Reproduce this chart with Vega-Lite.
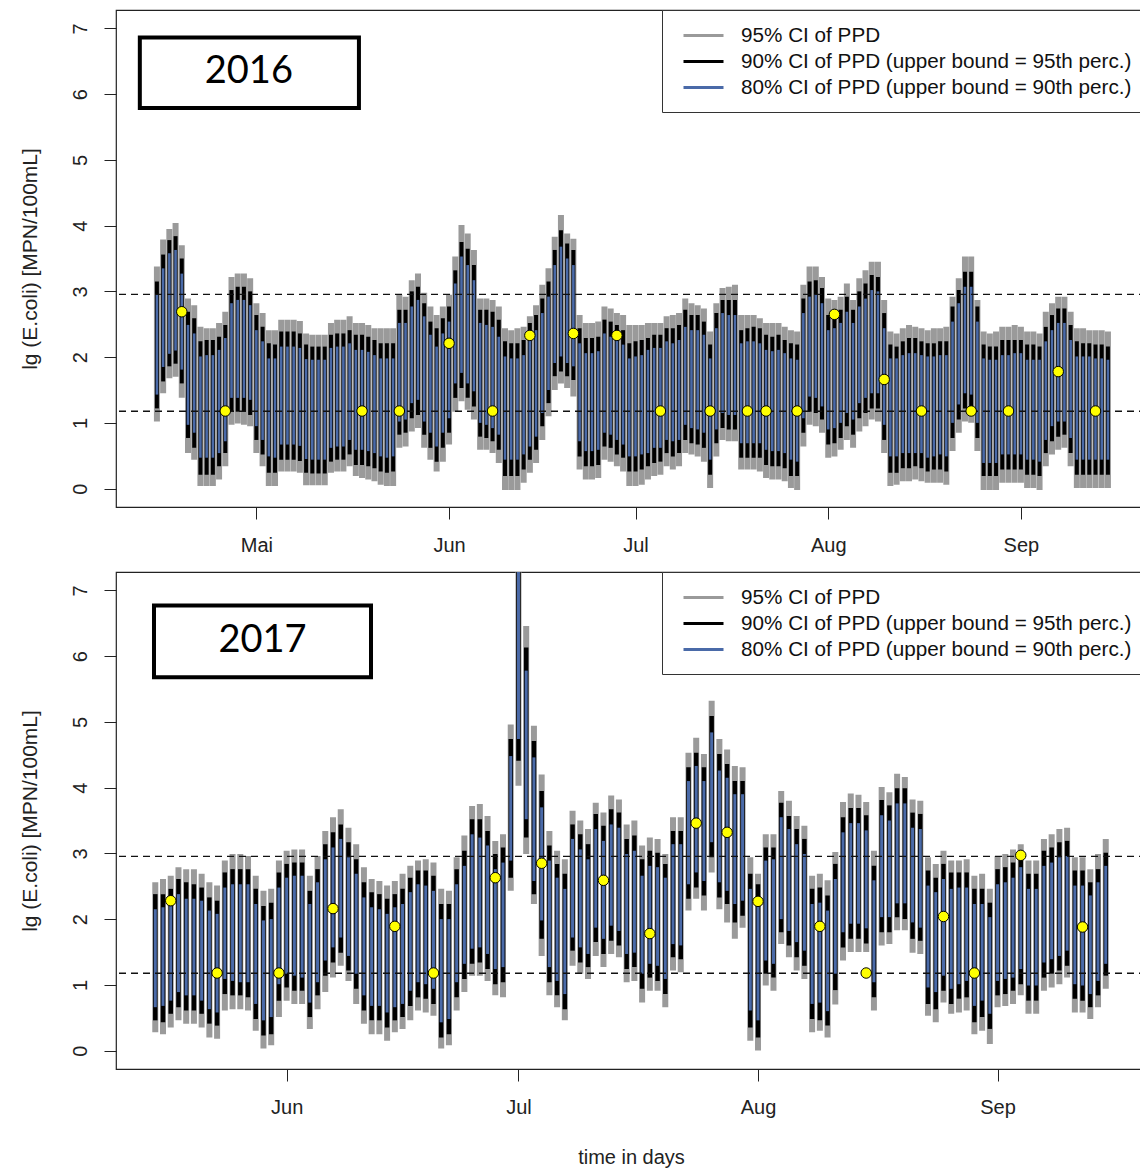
{
  "$schema": "https://vega.github.io/schema/vega-lite/v6.json",
  "background": "white",
  "padding": {"left": 18, "top": 8, "right": 0, "bottom": 0},
  "spacing": 14,
  "config": {
    "font": "Liberation Sans",
    "view": {"stroke": "#222222", "strokeWidth": 1.2},
    "axis": {"domain": false, "grid": false, "tickColor": "#222222", "tickSize": 12, "tickWidth": 1, "labelFont": "Liberation Sans", "labelFontSize": 20, "labelColor": "#222222", "titleFont": "Liberation Sans", "titleFontSize": 21, "titleFontWeight": "normal", "titleColor": "#222222", "labelOverlap": false, "labelFlush": false},
    "legend": {"orient": "top-right", "offset": 0, "padding": 14, "strokeColor": "#333333", "fillColor": "white", "symbolType": "M-2,0H2", "symbolSize": 400, "symbolStrokeWidth": 3, "labelFont": "Liberation Sans", "labelFontSize": 20.7, "labelColor": "#111111", "labelLimit": 1000, "labelOffset": 26, "rowPadding": 4, "symbolOffset": 16, "cornerRadius": 0}
  },
  "resolve": {"scale": {"x": "independent", "y": "independent", "color": "independent"}, "legend": {"color": "independent"}},
  "datasets": {
    "thresholds": [{"limit": "900 MPN/100mL", "value": 2.954}, {"limit": "detection limit 15 MPN/100mL", "value": 1.176}],
    "label2016": [{"label": "2016"}],
    "label2017": [{"label": "2017"}],
    "obs2016": [
      {"date": "2016-04-19", "value": 2.69}, {"date": "2016-04-26", "value": 1.18}, {"date": "2016-05-18", "value": 1.18}, {"date": "2016-05-24", "value": 1.18},
      {"date": "2016-06-01", "value": 2.21}, {"date": "2016-06-08", "value": 1.18}, {"date": "2016-06-14", "value": 2.33}, {"date": "2016-06-21", "value": 2.36},
      {"date": "2016-06-28", "value": 2.33}, {"date": "2016-07-05", "value": 1.18}, {"date": "2016-07-13", "value": 1.18}, {"date": "2016-07-19", "value": 1.18},
      {"date": "2016-07-22", "value": 1.18}, {"date": "2016-07-27", "value": 1.18}, {"date": "2016-08-02", "value": 2.65}, {"date": "2016-08-10", "value": 1.66},
      {"date": "2016-08-16", "value": 1.18}, {"date": "2016-08-24", "value": 1.18}, {"date": "2016-08-30", "value": 1.18}, {"date": "2016-09-07", "value": 1.78},
      {"date": "2016-09-13", "value": 1.18}
    ],
    "obs2017": [
      {"date": "2017-05-17", "value": 2.28}, {"date": "2017-05-23", "value": 1.18}, {"date": "2017-05-31", "value": 1.18}, {"date": "2017-06-07", "value": 2.16},
      {"date": "2017-06-15", "value": 1.89}, {"date": "2017-06-20", "value": 1.18}, {"date": "2017-06-28", "value": 2.63}, {"date": "2017-07-04", "value": 2.85},
      {"date": "2017-07-12", "value": 2.59}, {"date": "2017-07-18", "value": 1.78}, {"date": "2017-07-24", "value": 3.46}, {"date": "2017-07-28", "value": 3.32},
      {"date": "2017-08-01", "value": 2.27}, {"date": "2017-08-09", "value": 1.89}, {"date": "2017-08-15", "value": 1.18}, {"date": "2017-08-25", "value": 2.04},
      {"date": "2017-08-29", "value": 1.18}, {"date": "2017-09-04", "value": 2.97}, {"date": "2017-09-12", "value": 1.88}
    ],
    "ppd2016": [
      {"date":"2016-04-15","lo95":1.02,"lo90":1.22,"lo80":1.43,"hi80":2.95,"hi90":3.15,"hi95":3.38},
      {"date":"2016-04-16","lo95":1.45,"lo90":1.63,"lo80":1.85,"hi80":3.35,"hi90":3.56,"hi95":3.79},
      {"date":"2016-04-17","lo95":1.68,"lo90":1.86,"lo80":2.05,"hi80":3.58,"hi90":3.78,"hi95":3.95},
      {"date":"2016-04-18","lo95":1.7,"lo90":1.9,"lo80":2.1,"hi80":3.63,"hi90":3.84,"hi95":4.04},
      {"date":"2016-04-19","lo95":1.38,"lo90":1.6,"lo80":1.81,"hi80":3.27,"hi90":3.5,"hi95":3.7},
      {"date":"2016-04-20","lo95":0.54,"lo90":0.77,"lo80":0.97,"hi80":2.49,"hi90":2.69,"hi95":2.89},
      {"date":"2016-04-21","lo95":0.44,"lo90":0.62,"lo80":0.85,"hi80":2.36,"hi90":2.59,"hi95":2.79},
      {"date":"2016-04-22","lo95":0.04,"lo90":0.21,"lo80":0.47,"hi80":2.01,"hi90":2.24,"hi95":2.46},
      {"date":"2016-04-23","lo95":0.04,"lo90":0.21,"lo80":0.47,"hi80":2.03,"hi90":2.26,"hi95":2.44},
      {"date":"2016-04-24","lo95":0.04,"lo90":0.21,"lo80":0.47,"hi80":2.03,"hi90":2.26,"hi95":2.44},
      {"date":"2016-04-25","lo95":0.14,"lo90":0.34,"lo80":0.54,"hi80":2.11,"hi90":2.31,"hi95":2.52},
      {"date":"2016-04-26","lo95":0.34,"lo90":0.54,"lo80":0.72,"hi80":2.29,"hi90":2.49,"hi95":2.69},
      {"date":"2016-04-27","lo95":0.97,"lo90":1.17,"lo80":1.38,"hi80":2.82,"hi90":3.02,"hi95":3.22},
      {"date":"2016-04-28","lo95":0.99,"lo90":1.17,"lo80":1.38,"hi80":2.87,"hi90":3.07,"hi95":3.27},
      {"date":"2016-04-29","lo95":0.97,"lo90":1.17,"lo80":1.38,"hi80":2.87,"hi90":3.07,"hi95":3.27},
      {"date":"2016-04-30","lo95":0.95,"lo90":1.12,"lo80":1.35,"hi80":2.79,"hi90":3.0,"hi95":3.2},
      {"date":"2016-05-01","lo95":0.54,"lo90":0.74,"lo80":0.95,"hi80":2.41,"hi90":2.64,"hi95":2.82},
      {"date":"2016-05-02","lo95":0.34,"lo90":0.52,"lo80":0.74,"hi80":2.24,"hi90":2.46,"hi95":2.67},
      {"date":"2016-05-03","lo95":0.04,"lo90":0.24,"lo80":0.49,"hi80":1.98,"hi90":2.21,"hi95":2.41},
      {"date":"2016-05-04","lo95":0.04,"lo90":0.24,"lo80":0.47,"hi80":1.98,"hi90":2.19,"hi95":2.41},
      {"date":"2016-05-05","lo95":0.26,"lo90":0.44,"lo80":0.67,"hi80":2.16,"hi90":2.39,"hi95":2.57},
      {"date":"2016-05-06","lo95":0.26,"lo90":0.44,"lo80":0.67,"hi80":2.16,"hi90":2.39,"hi95":2.57},
      {"date":"2016-05-07","lo95":0.26,"lo90":0.44,"lo80":0.67,"hi80":2.16,"hi90":2.39,"hi95":2.57},
      {"date":"2016-05-08","lo95":0.24,"lo90":0.42,"lo80":0.65,"hi80":2.14,"hi90":2.36,"hi95":2.55},
      {"date":"2016-05-09","lo95":0.05,"lo90":0.24,"lo80":0.45,"hi80":1.97,"hi90":2.19,"hi95":2.36},
      {"date":"2016-05-10","lo95":0.05,"lo90":0.23,"lo80":0.44,"hi80":1.96,"hi90":2.16,"hi95":2.34},
      {"date":"2016-05-11","lo95":0.05,"lo90":0.23,"lo80":0.44,"hi80":1.96,"hi90":2.16,"hi95":2.34},
      {"date":"2016-05-12","lo95":0.05,"lo90":0.23,"lo80":0.44,"hi80":1.96,"hi90":2.16,"hi95":2.34},
      {"date":"2016-05-13","lo95":0.24,"lo90":0.41,"lo80":0.62,"hi80":2.14,"hi90":2.34,"hi95":2.52},
      {"date":"2016-05-14","lo95":0.26,"lo90":0.44,"lo80":0.64,"hi80":2.16,"hi90":2.36,"hi95":2.57},
      {"date":"2016-05-15","lo95":0.26,"lo90":0.44,"lo80":0.64,"hi80":2.16,"hi90":2.36,"hi95":2.57},
      {"date":"2016-05-16","lo95":0.34,"lo90":0.52,"lo80":0.74,"hi80":2.21,"hi90":2.41,"hi95":2.62},
      {"date":"2016-05-17","lo95":0.19,"lo90":0.36,"lo80":0.59,"hi80":2.11,"hi90":2.34,"hi95":2.52},
      {"date":"2016-05-18","lo95":0.16,"lo90":0.36,"lo80":0.59,"hi80":2.11,"hi90":2.34,"hi95":2.52},
      {"date":"2016-05-19","lo95":0.14,"lo90":0.34,"lo80":0.57,"hi80":2.08,"hi90":2.31,"hi95":2.49},
      {"date":"2016-05-20","lo95":0.11,"lo90":0.31,"lo80":0.54,"hi80":2.03,"hi90":2.26,"hi95":2.44},
      {"date":"2016-05-21","lo95":0.06,"lo90":0.26,"lo80":0.49,"hi80":1.98,"hi90":2.21,"hi95":2.44},
      {"date":"2016-05-22","lo95":0.04,"lo90":0.24,"lo80":0.47,"hi80":1.98,"hi90":2.21,"hi95":2.44},
      {"date":"2016-05-23","lo95":0.04,"lo90":0.26,"lo80":0.49,"hi80":1.98,"hi90":2.21,"hi95":2.44},
      {"date":"2016-05-24","lo95":0.62,"lo90":0.82,"lo80":1.02,"hi80":2.52,"hi90":2.72,"hi95":2.95},
      {"date":"2016-05-25","lo95":0.64,"lo90":0.85,"lo80":1.05,"hi80":2.52,"hi90":2.72,"hi95":2.92},
      {"date":"2016-05-26","lo95":0.87,"lo90":1.07,"lo80":1.3,"hi80":2.77,"hi90":3.0,"hi95":3.17},
      {"date":"2016-05-27","lo95":0.92,"lo90":1.12,"lo80":1.35,"hi80":2.87,"hi90":3.07,"hi95":3.27},
      {"date":"2016-05-28","lo95":0.62,"lo90":0.82,"lo80":1.02,"hi80":2.62,"hi90":2.82,"hi95":2.98},
      {"date":"2016-05-29","lo95":0.44,"lo90":0.62,"lo80":0.85,"hi80":2.34,"hi90":2.54,"hi95":2.77},
      {"date":"2016-05-30","lo95":0.26,"lo90":0.41,"lo80":0.64,"hi80":2.16,"hi90":2.44,"hi95":2.64},
      {"date":"2016-05-31","lo95":0.41,"lo90":0.62,"lo80":0.85,"hi80":2.36,"hi90":2.59,"hi95":2.77},
      {"date":"2016-06-01","lo95":0.67,"lo90":0.85,"lo80":1.07,"hi80":2.54,"hi90":2.77,"hi95":2.95},
      {"date":"2016-06-02","lo95":1.17,"lo90":1.38,"lo80":1.6,"hi80":3.12,"hi90":3.32,"hi95":3.53},
      {"date":"2016-06-03","lo95":1.33,"lo90":1.53,"lo80":1.76,"hi80":3.53,"hi90":3.75,"hi95":4.01},
      {"date":"2016-06-04","lo95":1.2,"lo90":1.38,"lo80":1.6,"hi80":3.4,"hi90":3.65,"hi95":3.88},
      {"date":"2016-06-05","lo95":1.05,"lo90":1.25,"lo80":1.48,"hi80":3.17,"hi90":3.4,"hi95":3.63},
      {"date":"2016-06-06","lo95":0.59,"lo90":0.79,"lo80":1.0,"hi80":2.52,"hi90":2.72,"hi95":2.89},
      {"date":"2016-06-07","lo95":0.59,"lo90":0.77,"lo80":0.97,"hi80":2.49,"hi90":2.72,"hi95":2.89},
      {"date":"2016-06-08","lo95":0.54,"lo90":0.72,"lo80":0.92,"hi80":2.46,"hi90":2.69,"hi95":2.87},
      {"date":"2016-06-09","lo95":0.39,"lo90":0.59,"lo80":0.82,"hi80":2.31,"hi90":2.57,"hi95":2.77},
      {"date":"2016-06-10","lo95":-0.02,"lo90":0.19,"lo80":0.44,"hi80":2.01,"hi90":2.24,"hi95":2.44},
      {"date":"2016-06-11","lo95":-0.02,"lo90":0.19,"lo80":0.44,"hi80":1.98,"hi90":2.21,"hi95":2.41},
      {"date":"2016-06-12","lo95":-0.02,"lo90":0.19,"lo80":0.44,"hi80":1.98,"hi90":2.21,"hi95":2.44},
      {"date":"2016-06-13","lo95":0.09,"lo90":0.29,"lo80":0.52,"hi80":2.03,"hi90":2.26,"hi95":2.46},
      {"date":"2016-06-14","lo95":0.24,"lo90":0.44,"lo80":0.64,"hi80":2.29,"hi90":2.52,"hi95":2.62},
      {"date":"2016-06-15","lo95":0.39,"lo90":0.59,"lo80":0.79,"hi80":2.41,"hi90":2.64,"hi95":2.79},
      {"date":"2016-06-16","lo95":0.74,"lo90":0.95,"lo80":1.15,"hi80":2.67,"hi90":2.89,"hi95":3.1},
      {"date":"2016-06-17","lo95":1.1,"lo90":1.3,"lo80":1.5,"hi80":2.92,"hi90":3.15,"hi95":3.35},
      {"date":"2016-06-18","lo95":1.5,"lo90":1.71,"lo80":1.91,"hi80":3.4,"hi90":3.63,"hi95":3.83},
      {"date":"2016-06-19","lo95":1.6,"lo90":1.78,"lo80":2.01,"hi80":3.68,"hi90":3.93,"hi95":4.16},
      {"date":"2016-06-20","lo95":1.53,"lo90":1.71,"lo80":1.91,"hi80":3.5,"hi90":3.73,"hi95":3.88},
      {"date":"2016-06-21","lo95":1.4,"lo90":1.65,"lo80":1.86,"hi80":3.4,"hi90":3.63,"hi95":3.8},
      {"date":"2016-06-22","lo95":0.29,"lo90":0.49,"lo80":0.72,"hi80":2.21,"hi90":2.44,"hi95":2.64},
      {"date":"2016-06-23","lo95":0.14,"lo90":0.34,"lo80":0.57,"hi80":2.06,"hi90":2.29,"hi95":2.52},
      {"date":"2016-06-24","lo95":0.14,"lo90":0.34,"lo80":0.57,"hi80":2.06,"hi90":2.29,"hi95":2.52},
      {"date":"2016-06-25","lo95":0.16,"lo90":0.36,"lo80":0.59,"hi80":2.09,"hi90":2.31,"hi95":2.54},
      {"date":"2016-06-26","lo95":0.44,"lo90":0.64,"lo80":0.85,"hi80":2.36,"hi90":2.57,"hi95":2.77},
      {"date":"2016-06-27","lo95":0.41,"lo90":0.62,"lo80":0.82,"hi80":2.31,"hi90":2.54,"hi95":2.74},
      {"date":"2016-06-28","lo95":0.34,"lo90":0.52,"lo80":0.74,"hi80":2.26,"hi90":2.49,"hi95":2.67},
      {"date":"2016-06-29","lo95":0.26,"lo90":0.47,"lo80":0.67,"hi80":2.19,"hi90":2.41,"hi95":2.64},
      {"date":"2016-06-30","lo95":0.04,"lo90":0.26,"lo80":0.49,"hi80":1.98,"hi90":2.21,"hi95":2.49},
      {"date":"2016-07-01","lo95":0.04,"lo90":0.26,"lo80":0.49,"hi80":2.01,"hi90":2.24,"hi95":2.49},
      {"date":"2016-07-02","lo95":0.06,"lo90":0.29,"lo80":0.52,"hi80":2.03,"hi90":2.26,"hi95":2.49},
      {"date":"2016-07-03","lo95":0.14,"lo90":0.34,"lo80":0.54,"hi80":2.11,"hi90":2.29,"hi95":2.52},
      {"date":"2016-07-04","lo95":0.19,"lo90":0.39,"lo80":0.62,"hi80":2.14,"hi90":2.34,"hi95":2.52},
      {"date":"2016-07-05","lo95":0.21,"lo90":0.41,"lo80":0.62,"hi80":2.14,"hi90":2.34,"hi95":2.52},
      {"date":"2016-07-06","lo95":0.34,"lo90":0.54,"lo80":0.74,"hi80":2.24,"hi90":2.44,"hi95":2.62},
      {"date":"2016-07-07","lo95":0.29,"lo90":0.49,"lo80":0.72,"hi80":2.21,"hi90":2.44,"hi95":2.64},
      {"date":"2016-07-08","lo95":0.34,"lo90":0.54,"lo80":0.74,"hi80":2.26,"hi90":2.49,"hi95":2.67},
      {"date":"2016-07-09","lo95":0.54,"lo90":0.74,"lo80":0.97,"hi80":2.46,"hi90":2.72,"hi95":2.89},
      {"date":"2016-07-10","lo95":0.52,"lo90":0.69,"lo80":0.92,"hi80":2.41,"hi90":2.64,"hi95":2.82},
      {"date":"2016-07-11","lo95":0.49,"lo90":0.67,"lo80":0.9,"hi80":2.41,"hi90":2.64,"hi95":2.79},
      {"date":"2016-07-12","lo95":0.41,"lo90":0.62,"lo80":0.85,"hi80":2.34,"hi90":2.54,"hi95":2.74},
      {"date":"2016-07-13","lo95":0.01,"lo90":0.21,"lo80":0.44,"hi80":1.98,"hi90":2.19,"hi95":2.39},
      {"date":"2016-07-14","lo95":0.49,"lo90":0.69,"lo80":0.9,"hi80":2.44,"hi90":2.67,"hi95":2.82},
      {"date":"2016-07-15","lo95":0.74,"lo90":0.92,"lo80":1.15,"hi80":2.67,"hi90":2.87,"hi95":3.05},
      {"date":"2016-07-16","lo95":0.72,"lo90":0.9,"lo80":1.12,"hi80":2.64,"hi90":2.87,"hi95":3.07},
      {"date":"2016-07-17","lo95":0.72,"lo90":0.9,"lo80":1.12,"hi80":2.64,"hi90":2.87,"hi95":3.1},
      {"date":"2016-07-18","lo95":0.29,"lo90":0.47,"lo80":0.69,"hi80":2.21,"hi90":2.41,"hi95":2.64},
      {"date":"2016-07-19","lo95":0.29,"lo90":0.47,"lo80":0.69,"hi80":2.24,"hi90":2.44,"hi95":2.64},
      {"date":"2016-07-20","lo95":0.29,"lo90":0.47,"lo80":0.69,"hi80":2.24,"hi90":2.46,"hi95":2.64},
      {"date":"2016-07-21","lo95":0.26,"lo90":0.47,"lo80":0.69,"hi80":2.21,"hi90":2.44,"hi95":2.59},
      {"date":"2016-07-22","lo95":0.16,"lo90":0.36,"lo80":0.59,"hi80":2.11,"hi90":2.34,"hi95":2.52},
      {"date":"2016-07-23","lo95":0.14,"lo90":0.34,"lo80":0.57,"hi80":2.09,"hi90":2.31,"hi95":2.52},
      {"date":"2016-07-24","lo95":0.14,"lo90":0.34,"lo80":0.57,"hi80":2.11,"hi90":2.34,"hi95":2.52},
      {"date":"2016-07-25","lo95":0.11,"lo90":0.31,"lo80":0.54,"hi80":2.06,"hi90":2.26,"hi95":2.46},
      {"date":"2016-07-26","lo95":0.01,"lo90":0.19,"lo80":0.44,"hi80":1.98,"hi90":2.21,"hi95":2.41},
      {"date":"2016-07-27","lo95":-0.02,"lo90":0.19,"lo80":0.41,"hi80":1.96,"hi90":2.19,"hi95":2.39},
      {"date":"2016-07-28","lo95":0.64,"lo90":0.85,"lo80":1.07,"hi80":2.67,"hi90":2.89,"hi95":3.1},
      {"date":"2016-07-29","lo95":0.97,"lo90":1.17,"lo80":1.4,"hi80":2.92,"hi90":3.15,"hi95":3.38},
      {"date":"2016-07-30","lo95":0.95,"lo90":1.15,"lo80":1.38,"hi80":2.95,"hi90":3.17,"hi95":3.38},
      {"date":"2016-07-31","lo95":0.85,"lo90":1.05,"lo80":1.25,"hi80":2.82,"hi90":3.05,"hi95":3.22},
      {"date":"2016-08-01","lo95":0.47,"lo90":0.67,"lo80":0.9,"hi80":2.41,"hi90":2.64,"hi95":2.89},
      {"date":"2016-08-02","lo95":0.49,"lo90":0.69,"lo80":0.92,"hi80":2.44,"hi90":2.67,"hi95":2.87},
      {"date":"2016-08-03","lo95":0.59,"lo90":0.77,"lo80":1.0,"hi80":2.52,"hi90":2.72,"hi95":2.92},
      {"date":"2016-08-04","lo95":0.74,"lo90":0.95,"lo80":1.15,"hi80":2.69,"hi90":2.92,"hi95":3.12},
      {"date":"2016-08-05","lo95":0.62,"lo90":0.82,"lo80":1.05,"hi80":2.52,"hi90":2.72,"hi95":2.87},
      {"date":"2016-08-06","lo95":0.87,"lo90":1.07,"lo80":1.3,"hi80":2.77,"hi90":3.0,"hi95":3.2},
      {"date":"2016-08-07","lo95":0.95,"lo90":1.15,"lo80":1.38,"hi80":2.89,"hi90":3.12,"hi95":3.32},
      {"date":"2016-08-08","lo95":1.05,"lo90":1.22,"lo80":1.45,"hi80":3.02,"hi90":3.25,"hi95":3.45},
      {"date":"2016-08-09","lo95":1.02,"lo90":1.22,"lo80":1.45,"hi80":3.0,"hi90":3.22,"hi95":3.45},
      {"date":"2016-08-10","lo95":0.54,"lo90":0.74,"lo80":0.97,"hi80":2.44,"hi90":2.67,"hi95":2.87},
      {"date":"2016-08-11","lo95":0.04,"lo90":0.24,"lo80":0.49,"hi80":1.98,"hi90":2.19,"hi95":2.39},
      {"date":"2016-08-12","lo95":0.06,"lo90":0.24,"lo80":0.49,"hi80":1.98,"hi90":2.16,"hi95":2.36},
      {"date":"2016-08-13","lo95":0.11,"lo90":0.31,"lo80":0.54,"hi80":2.03,"hi90":2.24,"hi95":2.44},
      {"date":"2016-08-14","lo95":0.11,"lo90":0.31,"lo80":0.54,"hi80":2.06,"hi90":2.29,"hi95":2.49},
      {"date":"2016-08-15","lo95":0.14,"lo90":0.34,"lo80":0.54,"hi80":2.06,"hi90":2.29,"hi95":2.46},
      {"date":"2016-08-16","lo95":0.11,"lo90":0.31,"lo80":0.54,"hi80":2.03,"hi90":2.24,"hi95":2.44},
      {"date":"2016-08-17","lo95":0.09,"lo90":0.26,"lo80":0.47,"hi80":2.01,"hi90":2.21,"hi95":2.41},
      {"date":"2016-08-18","lo95":0.09,"lo90":0.29,"lo80":0.49,"hi80":2.01,"hi90":2.21,"hi95":2.44},
      {"date":"2016-08-19","lo95":0.09,"lo90":0.29,"lo80":0.52,"hi80":2.03,"hi90":2.24,"hi95":2.44},
      {"date":"2016-08-20","lo95":0.06,"lo90":0.26,"lo80":0.49,"hi80":2.03,"hi90":2.24,"hi95":2.46},
      {"date":"2016-08-21","lo95":0.57,"lo90":0.77,"lo80":1.0,"hi80":2.54,"hi90":2.77,"hi95":2.92},
      {"date":"2016-08-22","lo95":0.85,"lo90":1.05,"lo80":1.28,"hi80":2.82,"hi90":3.02,"hi95":3.2},
      {"date":"2016-08-23","lo95":1.02,"lo90":1.22,"lo80":1.45,"hi80":3.07,"hi90":3.3,"hi95":3.53},
      {"date":"2016-08-24","lo95":1.0,"lo90":1.2,"lo80":1.43,"hi80":3.07,"hi90":3.3,"hi95":3.53},
      {"date":"2016-08-25","lo95":0.57,"lo90":0.77,"lo80":1.0,"hi80":2.54,"hi90":2.77,"hi95":2.87},
      {"date":"2016-08-26","lo95":-0.02,"lo90":0.19,"lo80":0.39,"hi80":1.98,"hi90":2.19,"hi95":2.39},
      {"date":"2016-08-27","lo95":-0.02,"lo90":0.19,"lo80":0.39,"hi80":1.96,"hi90":2.16,"hi95":2.36},
      {"date":"2016-08-28","lo95":-0.02,"lo90":0.19,"lo80":0.39,"hi80":1.96,"hi90":2.16,"hi95":2.39},
      {"date":"2016-08-29","lo95":0.09,"lo90":0.29,"lo80":0.52,"hi80":2.03,"hi90":2.26,"hi95":2.46},
      {"date":"2016-08-30","lo95":0.09,"lo90":0.29,"lo80":0.52,"hi80":2.03,"hi90":2.26,"hi95":2.46},
      {"date":"2016-08-31","lo95":0.09,"lo90":0.29,"lo80":0.52,"hi80":2.06,"hi90":2.26,"hi95":2.49},
      {"date":"2016-09-01","lo95":0.09,"lo90":0.29,"lo80":0.52,"hi80":2.06,"hi90":2.26,"hi95":2.46},
      {"date":"2016-09-02","lo95":0.01,"lo90":0.21,"lo80":0.44,"hi80":1.96,"hi90":2.19,"hi95":2.39},
      {"date":"2016-09-03","lo95":0.01,"lo90":0.21,"lo80":0.44,"hi80":1.96,"hi90":2.19,"hi95":2.39},
      {"date":"2016-09-04","lo95":-0.02,"lo90":0.19,"lo80":0.41,"hi80":1.96,"hi90":2.16,"hi95":2.36},
      {"date":"2016-09-05","lo95":0.34,"lo90":0.54,"lo80":0.74,"hi80":2.24,"hi90":2.46,"hi95":2.69},
      {"date":"2016-09-06","lo95":0.52,"lo90":0.72,"lo80":0.95,"hi80":2.41,"hi90":2.64,"hi95":2.82},
      {"date":"2016-09-07","lo95":0.59,"lo90":0.79,"lo80":1.02,"hi80":2.52,"hi90":2.74,"hi95":2.92},
      {"date":"2016-09-08","lo95":0.62,"lo90":0.82,"lo80":1.02,"hi80":2.52,"hi90":2.74,"hi95":2.92},
      {"date":"2016-09-09","lo95":0.34,"lo90":0.54,"lo80":0.77,"hi80":2.26,"hi90":2.49,"hi95":2.69},
      {"date":"2016-09-10","lo95":0.01,"lo90":0.21,"lo80":0.44,"hi80":2.01,"hi90":2.24,"hi95":2.44},
      {"date":"2016-09-11","lo95":0.01,"lo90":0.21,"lo80":0.44,"hi80":2.01,"hi90":2.21,"hi95":2.44},
      {"date":"2016-09-12","lo95":0.01,"lo90":0.21,"lo80":0.44,"hi80":2.01,"hi90":2.21,"hi95":2.41},
      {"date":"2016-09-13","lo95":0.01,"lo90":0.21,"lo80":0.44,"hi80":1.98,"hi90":2.19,"hi95":2.41},
      {"date":"2016-09-14","lo95":0.01,"lo90":0.21,"lo80":0.44,"hi80":1.98,"hi90":2.19,"hi95":2.41},
      {"date":"2016-09-15","lo95":0.01,"lo90":0.21,"lo80":0.44,"hi80":1.96,"hi90":2.16,"hi95":2.39}
    ],
    "ppd2017": [
      {"date":"2017-05-15","lo95":0.28,"lo90":0.46,"lo80":0.66,"hi80":2.15,"hi90":2.38,"hi95":2.56},
      {"date":"2017-05-16","lo95":0.25,"lo90":0.43,"lo80":0.68,"hi80":2.18,"hi90":2.38,"hi95":2.61},
      {"date":"2017-05-17","lo95":0.35,"lo90":0.56,"lo80":0.76,"hi80":2.23,"hi90":2.46,"hi95":2.66},
      {"date":"2017-05-18","lo95":0.46,"lo90":0.66,"lo80":0.89,"hi80":2.38,"hi90":2.61,"hi95":2.79},
      {"date":"2017-05-19","lo95":0.41,"lo90":0.61,"lo80":0.84,"hi80":2.31,"hi90":2.56,"hi95":2.76},
      {"date":"2017-05-20","lo95":0.41,"lo90":0.61,"lo80":0.84,"hi80":2.31,"hi90":2.53,"hi95":2.76},
      {"date":"2017-05-21","lo95":0.35,"lo90":0.56,"lo80":0.76,"hi80":2.28,"hi90":2.48,"hi95":2.69},
      {"date":"2017-05-22","lo95":0.2,"lo90":0.41,"lo80":0.63,"hi80":2.13,"hi90":2.33,"hi95":2.56},
      {"date":"2017-05-23","lo95":0.18,"lo90":0.38,"lo80":0.58,"hi80":2.08,"hi90":2.28,"hi95":2.51},
      {"date":"2017-05-24","lo95":0.61,"lo90":0.86,"lo80":1.09,"hi80":2.48,"hi90":2.71,"hi95":2.89},
      {"date":"2017-05-25","lo95":0.63,"lo90":0.84,"lo80":1.06,"hi80":2.53,"hi90":2.76,"hi95":2.99},
      {"date":"2017-05-26","lo95":0.63,"lo90":0.84,"lo80":1.04,"hi80":2.53,"hi90":2.76,"hi95":2.99},
      {"date":"2017-05-27","lo95":0.61,"lo90":0.81,"lo80":1.04,"hi80":2.53,"hi90":2.76,"hi95":2.96},
      {"date":"2017-05-28","lo95":0.3,"lo90":0.48,"lo80":0.71,"hi80":2.23,"hi90":2.46,"hi95":2.66},
      {"date":"2017-05-29","lo95":0.03,"lo90":0.23,"lo80":0.46,"hi80":1.98,"hi90":2.2,"hi95":2.43},
      {"date":"2017-05-30","lo95":0.08,"lo90":0.25,"lo80":0.51,"hi80":2.0,"hi90":2.25,"hi95":2.46},
      {"date":"2017-05-31","lo95":0.51,"lo90":0.76,"lo80":1.01,"hi80":2.48,"hi90":2.71,"hi95":2.89},
      {"date":"2017-06-01","lo95":0.76,"lo90":0.96,"lo80":1.17,"hi80":2.63,"hi90":2.84,"hi95":3.04},
      {"date":"2017-06-02","lo95":0.71,"lo90":0.91,"lo80":1.14,"hi80":2.66,"hi90":2.86,"hi95":3.06},
      {"date":"2017-06-03","lo95":0.71,"lo90":0.91,"lo80":1.11,"hi80":2.66,"hi90":2.86,"hi95":3.06},
      {"date":"2017-06-04","lo95":0.33,"lo90":0.51,"lo80":0.73,"hi80":2.23,"hi90":2.43,"hi95":2.66},
      {"date":"2017-06-05","lo95":0.63,"lo90":0.84,"lo80":1.04,"hi80":2.56,"hi90":2.76,"hi95":2.96},
      {"date":"2017-06-06","lo95":0.89,"lo90":1.14,"lo80":1.37,"hi80":2.91,"hi90":3.14,"hi95":3.34},
      {"date":"2017-06-07","lo95":1.11,"lo90":1.34,"lo80":1.57,"hi80":3.09,"hi90":3.32,"hi95":3.55},
      {"date":"2017-06-08","lo95":1.29,"lo90":1.49,"lo80":1.72,"hi80":3.22,"hi90":3.44,"hi95":3.67},
      {"date":"2017-06-09","lo95":1.06,"lo90":1.22,"lo80":1.44,"hi80":2.94,"hi90":3.17,"hi95":3.39},
      {"date":"2017-06-10","lo95":0.71,"lo90":0.94,"lo80":1.17,"hi80":2.69,"hi90":2.91,"hi95":3.14},
      {"date":"2017-06-11","lo95":0.41,"lo90":0.61,"lo80":0.84,"hi80":2.33,"hi90":2.56,"hi95":2.79},
      {"date":"2017-06-12","lo95":0.25,"lo90":0.46,"lo80":0.68,"hi80":2.18,"hi90":2.41,"hi95":2.61},
      {"date":"2017-06-13","lo95":0.25,"lo90":0.46,"lo80":0.68,"hi80":2.15,"hi90":2.38,"hi95":2.58},
      {"date":"2017-06-14","lo95":0.15,"lo90":0.35,"lo80":0.58,"hi80":2.08,"hi90":2.31,"hi95":2.51},
      {"date":"2017-06-15","lo95":0.28,"lo90":0.46,"lo80":0.66,"hi80":2.18,"hi90":2.38,"hi95":2.58},
      {"date":"2017-06-16","lo95":0.33,"lo90":0.51,"lo80":0.71,"hi80":2.23,"hi90":2.46,"hi95":2.69},
      {"date":"2017-06-17","lo95":0.46,"lo90":0.68,"lo80":0.91,"hi80":2.41,"hi90":2.63,"hi95":2.81},
      {"date":"2017-06-18","lo95":0.61,"lo90":0.81,"lo80":1.04,"hi80":2.53,"hi90":2.74,"hi95":2.89},
      {"date":"2017-06-19","lo95":0.58,"lo90":0.79,"lo80":1.01,"hi80":2.51,"hi90":2.74,"hi95":2.91},
      {"date":"2017-06-20","lo95":0.53,"lo90":0.71,"lo80":0.94,"hi80":2.43,"hi90":2.66,"hi95":2.86},
      {"date":"2017-06-21","lo95":0.03,"lo90":0.2,"lo80":0.43,"hi80":2.0,"hi90":2.23,"hi95":2.46},
      {"date":"2017-06-22","lo95":0.08,"lo90":0.25,"lo80":0.48,"hi80":2.0,"hi90":2.23,"hi95":2.43},
      {"date":"2017-06-23","lo95":0.61,"lo90":0.81,"lo80":1.04,"hi80":2.53,"hi90":2.76,"hi95":2.94},
      {"date":"2017-06-24","lo95":0.89,"lo90":1.09,"lo80":1.32,"hi80":2.81,"hi90":3.04,"hi95":3.27},
      {"date":"2017-06-25","lo95":1.14,"lo90":1.32,"lo80":1.55,"hi80":3.29,"hi90":3.52,"hi95":3.72},
      {"date":"2017-06-26","lo95":1.14,"lo90":1.34,"lo80":1.57,"hi80":3.24,"hi90":3.52,"hi95":3.75},
      {"date":"2017-06-27","lo95":1.06,"lo90":1.24,"lo80":1.47,"hi80":3.12,"hi90":3.34,"hi95":3.57},
      {"date":"2017-06-28","lo95":0.84,"lo90":1.01,"lo80":1.24,"hi80":2.76,"hi90":2.99,"hi95":3.19},
      {"date":"2017-06-29","lo95":0.81,"lo90":1.04,"lo80":1.27,"hi80":2.86,"hi90":3.09,"hi95":3.29},
      {"date":"2017-06-30","lo95":2.43,"lo90":2.63,"lo80":2.89,"hi80":4.48,"hi90":4.74,"hi95":4.96},
      {"date":"2017-07-01","lo95":4.03,"lo90":4.41,"lo80":4.74,"hi80":7.6,"hi90":7.9,"hi95":8.2},
      {"date":"2017-07-02","lo95":2.99,"lo90":3.24,"lo80":3.52,"hi80":5.78,"hi90":6.13,"hi95":6.46},
      {"date":"2017-07-03","lo95":2.23,"lo90":2.38,"lo80":2.58,"hi80":4.46,"hi90":4.71,"hi95":4.94},
      {"date":"2017-07-04","lo95":1.44,"lo90":1.7,"lo80":1.98,"hi80":3.7,"hi90":3.95,"hi95":4.2},
      {"date":"2017-07-05","lo95":0.84,"lo90":1.04,"lo80":1.27,"hi80":2.89,"hi90":3.12,"hi95":3.34},
      {"date":"2017-07-06","lo95":0.66,"lo90":0.84,"lo80":1.06,"hi80":2.63,"hi90":2.84,"hi95":3.04},
      {"date":"2017-07-07","lo95":0.46,"lo90":0.63,"lo80":0.86,"hi80":2.46,"hi90":2.69,"hi95":2.91},
      {"date":"2017-07-08","lo95":1.29,"lo90":1.52,"lo80":1.72,"hi80":3.22,"hi90":3.44,"hi95":3.65},
      {"date":"2017-07-09","lo95":1.17,"lo90":1.34,"lo80":1.57,"hi80":3.06,"hi90":3.29,"hi95":3.5},
      {"date":"2017-07-10","lo95":1.09,"lo90":1.27,"lo80":1.47,"hi80":2.91,"hi90":3.14,"hi95":3.37},
      {"date":"2017-07-11","lo95":1.44,"lo90":1.65,"lo80":1.87,"hi80":3.37,"hi90":3.6,"hi95":3.77},
      {"date":"2017-07-12","lo95":1.27,"lo90":1.47,"lo80":1.7,"hi80":3.19,"hi90":3.42,"hi95":3.62},
      {"date":"2017-07-13","lo95":1.47,"lo90":1.67,"lo80":1.9,"hi80":3.44,"hi90":3.67,"hi95":3.88},
      {"date":"2017-07-14","lo95":1.42,"lo90":1.6,"lo80":1.82,"hi80":3.39,"hi90":3.62,"hi95":3.82},
      {"date":"2017-07-15","lo95":1.04,"lo90":1.24,"lo80":1.47,"hi80":2.99,"hi90":3.22,"hi95":3.44},
      {"date":"2017-07-16","lo95":1.06,"lo90":1.27,"lo80":1.49,"hi80":3.04,"hi90":3.27,"hi95":3.5},
      {"date":"2017-07-17","lo95":0.73,"lo90":0.94,"lo80":1.17,"hi80":2.66,"hi90":2.91,"hi95":3.12},
      {"date":"2017-07-18","lo95":0.91,"lo90":1.11,"lo80":1.32,"hi80":2.81,"hi90":3.04,"hi95":3.24},
      {"date":"2017-07-19","lo95":0.91,"lo90":1.06,"lo80":1.29,"hi80":2.79,"hi90":3.01,"hi95":3.22},
      {"date":"2017-07-20","lo95":0.66,"lo90":0.86,"lo80":1.09,"hi80":2.63,"hi90":2.84,"hi95":2.99},
      {"date":"2017-07-21","lo95":1.22,"lo90":1.42,"lo80":1.62,"hi80":3.14,"hi90":3.34,"hi95":3.55},
      {"date":"2017-07-22","lo95":1.19,"lo90":1.39,"lo80":1.6,"hi80":3.14,"hi90":3.34,"hi95":3.55},
      {"date":"2017-07-23","lo95":2.13,"lo90":2.31,"lo80":2.53,"hi80":4.1,"hi90":4.31,"hi95":4.53},
      {"date":"2017-07-24","lo95":2.31,"lo90":2.48,"lo80":2.71,"hi80":4.33,"hi90":4.53,"hi95":4.76},
      {"date":"2017-07-25","lo95":2.13,"lo90":2.36,"lo80":2.58,"hi80":4.1,"hi90":4.31,"hi95":4.51},
      {"date":"2017-07-26","lo95":2.71,"lo90":2.94,"lo80":3.17,"hi80":4.84,"hi90":5.09,"hi95":5.32},
      {"date":"2017-07-27","lo95":2.15,"lo90":2.33,"lo80":2.56,"hi80":4.26,"hi90":4.51,"hi95":4.74},
      {"date":"2017-07-28","lo95":1.95,"lo90":2.23,"lo80":2.43,"hi80":4.15,"hi90":4.36,"hi95":4.58},
      {"date":"2017-07-29","lo95":1.7,"lo90":1.95,"lo80":2.23,"hi80":3.9,"hi90":4.1,"hi95":4.33},
      {"date":"2017-07-30","lo95":1.87,"lo90":2.05,"lo80":2.28,"hi80":3.9,"hi90":4.1,"hi95":4.31},
      {"date":"2017-07-31","lo95":0.15,"lo90":0.35,"lo80":0.61,"hi80":2.46,"hi90":2.69,"hi95":2.94},
      {"date":"2017-08-01","lo95":0.0,"lo90":0.2,"lo80":0.46,"hi80":2.33,"hi90":2.53,"hi95":2.69},
      {"date":"2017-08-02","lo95":0.99,"lo90":1.17,"lo80":1.37,"hi80":2.89,"hi90":3.09,"hi95":3.29},
      {"date":"2017-08-03","lo95":0.91,"lo90":1.11,"lo80":1.32,"hi80":2.91,"hi90":3.09,"hi95":3.29},
      {"date":"2017-08-04","lo95":1.62,"lo90":1.8,"lo80":2.0,"hi80":3.55,"hi90":3.77,"hi95":3.95},
      {"date":"2017-08-05","lo95":1.42,"lo90":1.6,"lo80":1.82,"hi80":3.37,"hi90":3.57,"hi95":3.8},
      {"date":"2017-08-06","lo95":1.22,"lo90":1.42,"lo80":1.65,"hi80":3.14,"hi90":3.37,"hi95":3.57},
      {"date":"2017-08-07","lo95":1.09,"lo90":1.29,"lo80":1.52,"hi80":2.99,"hi90":3.22,"hi95":3.42},
      {"date":"2017-08-08","lo95":0.28,"lo90":0.48,"lo80":0.71,"hi80":2.23,"hi90":2.46,"hi95":2.66},
      {"date":"2017-08-09","lo95":0.3,"lo90":0.46,"lo80":0.73,"hi80":2.25,"hi90":2.48,"hi95":2.69},
      {"date":"2017-08-10","lo95":0.2,"lo90":0.38,"lo80":0.6,"hi80":2.13,"hi90":2.36,"hi95":2.59},
      {"date":"2017-08-11","lo95":0.7,"lo90":0.92,"lo80":1.17,"hi80":2.61,"hi90":2.84,"hi95":3.02},
      {"date":"2017-08-12","lo95":1.37,"lo90":1.57,"lo80":1.8,"hi80":3.32,"hi90":3.55,"hi95":3.78},
      {"date":"2017-08-13","lo95":1.5,"lo90":1.7,"lo80":1.93,"hi80":3.46,"hi90":3.69,"hi95":3.91},
      {"date":"2017-08-14","lo95":1.5,"lo90":1.7,"lo80":1.93,"hi80":3.46,"hi90":3.69,"hi95":3.89},
      {"date":"2017-08-15","lo95":1.5,"lo90":1.63,"lo80":1.86,"hi80":3.35,"hi90":3.58,"hi95":3.78},
      {"date":"2017-08-16","lo95":0.61,"lo90":0.81,"lo80":1.04,"hi80":2.59,"hi90":2.81,"hi95":3.04},
      {"date":"2017-08-17","lo95":1.6,"lo90":1.8,"lo80":2.03,"hi80":3.58,"hi90":3.81,"hi95":4.01},
      {"date":"2017-08-18","lo95":1.62,"lo90":1.8,"lo80":2.03,"hi80":3.5,"hi90":3.73,"hi95":3.93},
      {"date":"2017-08-19","lo95":1.83,"lo90":2.03,"lo80":2.24,"hi80":3.76,"hi90":3.99,"hi95":4.21},
      {"date":"2017-08-20","lo95":1.83,"lo90":2.0,"lo80":2.24,"hi80":3.76,"hi90":3.99,"hi95":4.16},
      {"date":"2017-08-21","lo95":1.49,"lo90":1.7,"lo80":1.95,"hi80":3.39,"hi90":3.62,"hi95":3.82},
      {"date":"2017-08-22","lo95":1.47,"lo90":1.67,"lo80":1.87,"hi80":3.37,"hi90":3.6,"hi95":3.8},
      {"date":"2017-08-23","lo95":0.53,"lo90":0.71,"lo80":0.96,"hi80":2.51,"hi90":2.74,"hi95":2.94},
      {"date":"2017-08-24","lo95":0.43,"lo90":0.63,"lo80":0.89,"hi80":2.41,"hi90":2.63,"hi95":2.84},
      {"date":"2017-08-25","lo95":0.73,"lo90":0.91,"lo80":1.14,"hi80":2.61,"hi90":2.84,"hi95":3.04},
      {"date":"2017-08-26","lo95":0.56,"lo90":0.71,"lo80":0.94,"hi80":2.46,"hi90":2.71,"hi95":2.89},
      {"date":"2017-08-27","lo95":0.58,"lo90":0.79,"lo80":1.01,"hi80":2.48,"hi90":2.71,"hi95":2.89},
      {"date":"2017-08-28","lo95":0.61,"lo90":0.81,"lo80":1.06,"hi80":2.48,"hi90":2.71,"hi95":2.91},
      {"date":"2017-08-29","lo95":0.25,"lo90":0.43,"lo80":0.68,"hi80":2.23,"hi90":2.46,"hi95":2.66},
      {"date":"2017-08-30","lo95":0.3,"lo90":0.51,"lo80":0.76,"hi80":2.23,"hi90":2.46,"hi95":2.69},
      {"date":"2017-08-31","lo95":0.1,"lo90":0.33,"lo80":0.56,"hi80":2.03,"hi90":2.25,"hi95":2.46},
      {"date":"2017-09-01","lo95":0.66,"lo90":0.84,"lo80":1.06,"hi80":2.53,"hi90":2.76,"hi95":2.96},
      {"date":"2017-09-02","lo95":0.68,"lo90":0.86,"lo80":1.09,"hi80":2.56,"hi90":2.79,"hi95":2.99},
      {"date":"2017-09-03","lo95":0.71,"lo90":0.91,"lo80":1.11,"hi80":2.63,"hi90":2.86,"hi95":3.06},
      {"date":"2017-09-04","lo95":0.84,"lo90":1.01,"lo80":1.24,"hi80":2.79,"hi90":2.99,"hi95":3.14},
      {"date":"2017-09-05","lo95":0.56,"lo90":0.76,"lo80":0.99,"hi80":2.46,"hi90":2.69,"hi95":2.89},
      {"date":"2017-09-06","lo95":0.56,"lo90":0.76,"lo80":0.99,"hi80":2.46,"hi90":2.69,"hi95":2.89},
      {"date":"2017-09-07","lo95":0.91,"lo90":1.11,"lo80":1.34,"hi80":2.81,"hi90":3.04,"hi95":3.22},
      {"date":"2017-09-08","lo95":0.96,"lo90":1.17,"lo80":1.39,"hi80":2.86,"hi90":3.09,"hi95":3.29},
      {"date":"2017-09-09","lo95":1.01,"lo90":1.22,"lo80":1.44,"hi80":2.94,"hi90":3.17,"hi95":3.37},
      {"date":"2017-09-10","lo95":1.11,"lo90":1.29,"lo80":1.52,"hi80":2.96,"hi90":3.19,"hi95":3.39},
      {"date":"2017-09-11","lo95":0.58,"lo90":0.79,"lo80":1.01,"hi80":2.51,"hi90":2.74,"hi95":2.94},
      {"date":"2017-09-12","lo95":0.58,"lo90":0.76,"lo80":0.99,"hi80":2.51,"hi90":2.74,"hi95":2.94},
      {"date":"2017-09-13","lo95":0.48,"lo90":0.66,"lo80":0.86,"hi80":2.36,"hi90":2.56,"hi95":2.76},
      {"date":"2017-09-14","lo95":0.66,"lo90":0.84,"lo80":1.06,"hi80":2.56,"hi90":2.76,"hi95":2.99},
      {"date":"2017-09-15","lo95":0.94,"lo90":1.14,"lo80":1.32,"hi80":2.81,"hi90":3.01,"hi95":3.22}
    ]
  },
  "vconcat": [
    {
      "width": 1030,
      "height": 497,
      "layer": [
        {
          "data": {"name": "ppd2016"},
          "mark": {"type": "rule", "strokeWidth": 6, "clip": true},
          "encoding": {
            "x": {"field": "date", "type": "temporal",
              "scale": {"type": "utc", "nice": false, "domain": [{"year": 2016, "month": 4, "date": 8, "hours": 10, "utc": true}, {"year": 2016, "month": 9, "date": 21, "hours": 3, "utc": true}]},
              "axis": {"title": null, "values": [{"year": 2016, "month": 5, "date": 1, "utc": true}, {"year": 2016, "month": 6, "date": 1, "utc": true}, {"year": 2016, "month": 7, "date": 1, "utc": true}, {"year": 2016, "month": 8, "date": 1, "utc": true}, {"year": 2016, "month": 9, "date": 1, "utc": true}],
                "labelExpr": "utcFormat(datum.value, '%b') == 'May' ? 'Mai' : utcFormat(datum.value, '%b')", "labelPadding": 16}},
            "y": {"field": "lo95", "type": "quantitative",
              "scale": {"domain": [-0.28, 7.28], "nice": false, "zero": false},
              "axis": {"title": "lg (E.coli) [MPN/100mL]", "values": [0, 1, 2, 3, 4, 5, 6, 7], "format": "d", "labelAngle": 270, "labelPadding": 14, "titlePadding": 30}},
            "y2": {"field": "hi95"},
            "color": {"datum": "95% CI of PPD", "type": "nominal",
              "scale": {"domain": ["95% CI of PPD", "90% CI of PPD (upper bound = 95th perc.)", "80% CI of PPD (upper bound = 90th perc.)"], "range": ["#9a9a9a", "#000000", "#4a6aa8"]},
              "legend": {"title": null}}
          }
        },
        {
          "data": {"name": "ppd2016"},
          "mark": {"type": "rule", "strokeWidth": 4, "clip": true},
          "encoding": {
            "x": {"field": "date", "type": "temporal"},
            "y": {"field": "lo90", "type": "quantitative"},
            "y2": {"field": "hi90"},
            "color": {"datum": "90% CI of PPD (upper bound = 95th perc.)", "type": "nominal"}
          }
        },
        {
          "data": {"name": "ppd2016"},
          "mark": {"type": "rule", "strokeWidth": 2.6, "clip": true},
          "encoding": {
            "x": {"field": "date", "type": "temporal"},
            "y": {"field": "lo80", "type": "quantitative"},
            "y2": {"field": "hi80"},
            "color": {"datum": "80% CI of PPD (upper bound = 90th perc.)", "type": "nominal"}
          }
        },
        {
          "data": {"name": "thresholds"},
          "mark": {"type": "rule", "color": "#111111", "strokeWidth": 1.4, "strokeDash": [7, 5]},
          "encoding": {"y": {"field": "value", "type": "quantitative"}}
        },
        {
          "data": {"name": "obs2016"},
          "mark": {"type": "point", "filled": true, "fill": "#ffff00", "stroke": "#000000", "strokeWidth": 1, "size": 110, "opacity": 1},
          "encoding": {
            "x": {"field": "date", "type": "temporal"},
            "y": {"field": "value", "type": "quantitative"}
          }
        },
        {
          "data": {"name": "label2016"},
          "mark": {"type": "rect", "fill": "white", "stroke": "#000000", "strokeWidth": 4},
          "encoding": {
            "x": {"datum": {"year": 2016, "month": 4, "date": 12, "hours": 6, "utc": true}, "type": "temporal"},
            "x2": {"datum": {"year": 2016, "month": 5, "date": 17, "hours": 12, "utc": true}},
            "y": {"datum": 6.86, "type": "quantitative"},
            "y2": {"datum": 5.79}
          }
        },
        {
          "data": {"name": "label2016"},
          "mark": {"type": "text", "font": "Lato", "fontSize": 38, "color": "#000000", "align": "center", "baseline": "middle"},
          "encoding": {
            "x": {"datum": {"year": 2016, "month": 4, "date": 29, "hours": 19, "utc": true}, "type": "temporal"},
            "y": {"datum": 6.33, "type": "quantitative"},
            "text": {"field": "label"}
          }
        }
      ]
    },
    {
      "width": 1030,
      "height": 497,
      "layer": [
        {
          "data": {"name": "ppd2017"},
          "mark": {"type": "rule", "strokeWidth": 6, "clip": true},
          "encoding": {
            "x": {"field": "date", "type": "temporal",
              "scale": {"type": "utc", "nice": false, "domain": [{"year": 2017, "month": 5, "date": 9, "hours": 22, "utc": true}, {"year": 2017, "month": 9, "date": 20, "hours": 5, "utc": true}]},
              "axis": {"title": "time in days", "titlePadding": 30, "titleFontSize": 20, "values": [{"year": 2017, "month": 6, "date": 1, "utc": true}, {"year": 2017, "month": 7, "date": 1, "utc": true}, {"year": 2017, "month": 8, "date": 1, "utc": true}, {"year": 2017, "month": 9, "date": 1, "utc": true}],
                "labelExpr": "utcFormat(datum.value, '%b') == 'May' ? 'Mai' : utcFormat(datum.value, '%b')", "labelPadding": 16}},
            "y": {"field": "lo95", "type": "quantitative",
              "scale": {"domain": [-0.28, 7.28], "nice": false, "zero": false},
              "axis": {"title": "lg (E.coli) [MPN/100mL]", "values": [0, 1, 2, 3, 4, 5, 6, 7], "format": "d", "labelAngle": 270, "labelPadding": 14, "titlePadding": 30}},
            "y2": {"field": "hi95"},
            "color": {"datum": "95% CI of PPD", "type": "nominal",
              "scale": {"domain": ["95% CI of PPD", "90% CI of PPD (upper bound = 95th perc.)", "80% CI of PPD (upper bound = 90th perc.)"], "range": ["#9a9a9a", "#000000", "#4a6aa8"]},
              "legend": {"title": null}}
          }
        },
        {
          "data": {"name": "ppd2017"},
          "mark": {"type": "rule", "strokeWidth": 4.5, "clip": true},
          "encoding": {
            "x": {"field": "date", "type": "temporal"},
            "y": {"field": "lo90", "type": "quantitative"},
            "y2": {"field": "hi90"},
            "color": {"datum": "90% CI of PPD (upper bound = 95th perc.)", "type": "nominal"}
          }
        },
        {
          "data": {"name": "ppd2017"},
          "mark": {"type": "rule", "strokeWidth": 3, "clip": true},
          "encoding": {
            "x": {"field": "date", "type": "temporal"},
            "y": {"field": "lo80", "type": "quantitative"},
            "y2": {"field": "hi80"},
            "color": {"datum": "80% CI of PPD (upper bound = 90th perc.)", "type": "nominal"}
          }
        },
        {
          "data": {"name": "thresholds"},
          "mark": {"type": "rule", "color": "#111111", "strokeWidth": 1.4, "strokeDash": [7, 5]},
          "encoding": {"y": {"field": "value", "type": "quantitative"}}
        },
        {
          "data": {"name": "obs2017"},
          "mark": {"type": "point", "filled": true, "fill": "#ffff00", "stroke": "#000000", "strokeWidth": 1, "size": 110, "opacity": 1},
          "encoding": {
            "x": {"field": "date", "type": "temporal"},
            "y": {"field": "value", "type": "quantitative"}
          }
        },
        {
          "data": {"name": "label2017"},
          "mark": {"type": "rect", "fill": "white", "stroke": "#000000", "strokeWidth": 4},
          "encoding": {
            "x": {"datum": {"year": 2017, "month": 5, "date": 14, "hours": 20, "utc": true}, "type": "temporal"},
            "x2": {"datum": {"year": 2017, "month": 6, "date": 11, "hours": 22, "utc": true}},
            "y": {"datum": 6.77, "type": "quantitative"},
            "y2": {"datum": 5.68}
          }
        },
        {
          "data": {"name": "label2017"},
          "mark": {"type": "text", "font": "Lato", "fontSize": 38, "color": "#000000", "align": "center", "baseline": "middle"},
          "encoding": {
            "x": {"datum": {"year": 2017, "month": 5, "date": 28, "hours": 21, "utc": true}, "type": "temporal"},
            "y": {"datum": 6.23, "type": "quantitative"},
            "text": {"field": "label"}
          }
        }
      ]
    }
  ]
}
